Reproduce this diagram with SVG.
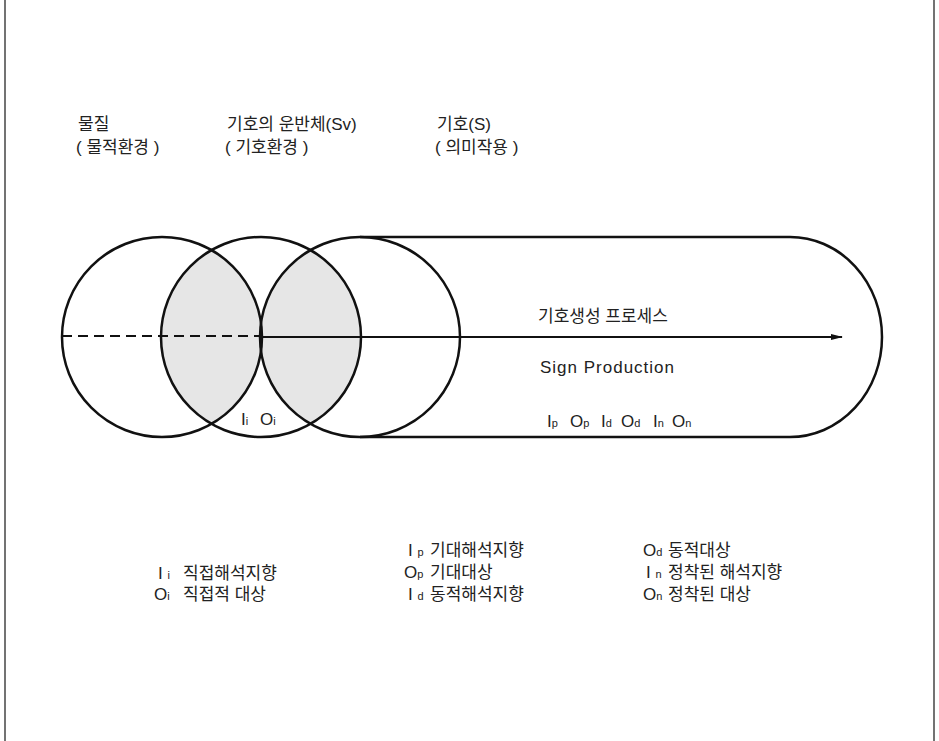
<svg xmlns="http://www.w3.org/2000/svg" width="939" height="741" viewBox="0 0 939 741">
<defs>
<style>
.t{font-family:"Liberation Sans","Noto Sans CJK KR",sans-serif;font-size:17px;fill:#222}
.e{font-family:"Liberation Sans","Noto Sans CJK KR",sans-serif;font-size:17px;fill:#222;letter-spacing:1px}
.l{font-family:"Liberation Sans","Noto Sans CJK KR",sans-serif;font-size:17px;fill:#222}
.s{font-size:11px}
.c{fill:none;stroke:#111;stroke-width:2.5}
.lens{fill:#e6e6e6;stroke:none}
</style>
<marker id="ah" markerWidth="12" markerHeight="8" refX="11" refY="4" orient="auto" markerUnits="userSpaceOnUse">
<path d="M0,1 L12,4 L0,7 Z" fill="#111"/>
</marker>
</defs>
<rect width="939" height="741" fill="#fff"/>
<g id="frame" stroke="#444" stroke-width="1.5">
<line x1="5" y1="0" x2="5" y2="741"/>
<line x1="934" y1="0" x2="934" y2="741"/>
</g>
<g id="lenses">
<path class="lens" d="M211.5 250.1 A100 100 0 0 1 211.5 423.9 A100 100 0 0 1 211.5 250.1 Z"/>
<path class="lens" d="M310.5 250.1 A100 100 0 0 1 310.5 423.9 A100 100 0 0 1 310.5 250.1 Z"/>
</g>
<g id="matter"><circle class="c" cx="162" cy="337" r="100"/></g>
<g id="sign-vehicle"><circle class="c" cx="261" cy="337" r="100"/></g>
<g id="sign"><circle class="c" cx="360" cy="337" r="100"/></g>
<g id="process"><path class="c" d="M360 237 L790 237 A92 100 0 0 1 790 437 L360 437"/></g>
<g id="connectors">
<line x1="62" y1="336" x2="260" y2="336" stroke="#111" stroke-width="1.8" stroke-dasharray="10,6"/>
<line x1="260" y1="337" x2="842" y2="337" stroke="#111" stroke-width="1.8" marker-end="url(#ah)"/>
</g>
<g id="labels-top">
<text class="t" x="78" y="130">물질</text>
<text class="t" x="76" y="153">( 물적환경 )</text>
<text class="t" x="227" y="130">기호의 운반체(Sv)</text>
<text class="t" x="225" y="153">( 기호환경 )</text>
<text class="t" x="437" y="130">기호(S)</text>
<text class="t" x="435" y="153">( 의미작용 )</text>
</g>
<g id="labels-inner">
<text class="t" x="538" y="322" font-size="17.5">기호생성 프로세스</text>
<text class="e" x="540" y="373">Sign Production</text>
<text class="t" x="241" y="425">I<tspan class="s">i</tspan></text>
<text class="t" x="260" y="425">O<tspan class="s">i</tspan></text>
<text class="t" x="547" y="427">I<tspan class="s">p</tspan></text>
<text class="t" x="570" y="427">O<tspan class="s">p</tspan></text>
<text class="t" x="601" y="427">I<tspan class="s">d</tspan></text>
<text class="t" x="621" y="427">O<tspan class="s">d</tspan></text>
<text class="t" x="653" y="427">I<tspan class="s">n</tspan></text>
<text class="t" x="672" y="427">O<tspan class="s">n</tspan></text>
</g>
<g id="legend">
<text class="l" x="158" y="579">I <tspan class="s">i</tspan></text><text class="l" x="183" y="579">직접해석지향</text>
<text class="l" x="154" y="600">O<tspan class="s">i</tspan></text><text class="l" x="183" y="600">직접적 대상</text>
<text class="l" x="408" y="556">I <tspan class="s">p</tspan></text><text class="l" x="430" y="556">기대해석지향</text>
<text class="l" x="404" y="578">O<tspan class="s">p</tspan></text><text class="l" x="430" y="578">기대대상</text>
<text class="l" x="408" y="600">I <tspan class="s">d</tspan></text><text class="l" x="430" y="600">동적해석지향</text>
<text class="l" x="643" y="556">O<tspan class="s">d</tspan></text><text class="l" x="668" y="556">동적대상</text>
<text class="l" x="646" y="578">I <tspan class="s">n</tspan></text><text class="l" x="668" y="578">정착된 해석지향</text>
<text class="l" x="643" y="600">O<tspan class="s">n</tspan></text><text class="l" x="668" y="600">정착된 대상</text>
</g>
</svg>
